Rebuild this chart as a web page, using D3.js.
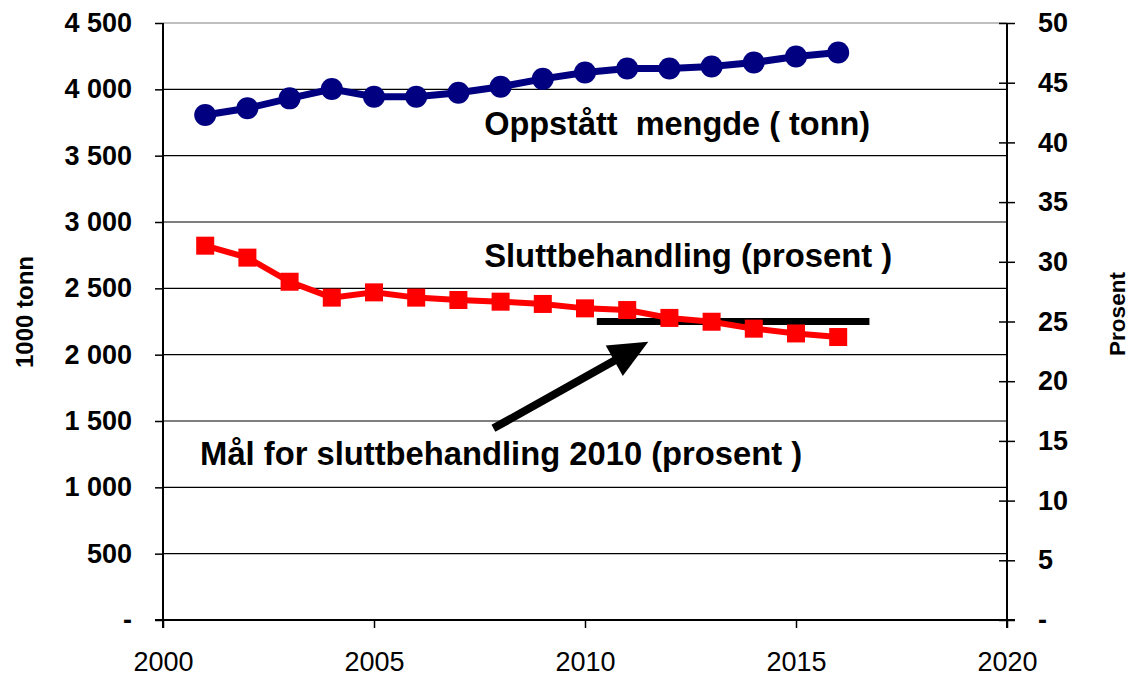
<!DOCTYPE html>
<meta charset="utf-8">
<title>Oppstått mengde og sluttbehandling</title>
<style>
    body { margin: 0; background: #fff; }
    text { font-family: "Liberation Sans", Arial, sans-serif; }
    .bold text, text.bold { font-weight: bold; }
</style>
<body>
<div id="chart"></div>
<script src="https://d3js.org/d3.v7.min.js"></script>
<script>
    // data
    var years = [2001, 2002, 2003, 2004, 2005, 2006, 2007, 2008, 2009, 2010, 2011, 2012, 2013, 2014, 2015, 2016];
    var mengde = [3807, 3857, 3932, 4002, 3944, 3944, 3974, 4019, 4079, 4127, 4157, 4157, 4172, 4202, 4247, 4277];
    var sluttbehandling = [31.35, 30.35, 28.33, 27.0, 27.44, 27.0, 26.8, 26.66, 26.47, 26.1, 25.96, 25.3, 24.98, 24.4, 24.0, 23.7];
    var malYears = [2010.28, 2016.74];
    var malValue = 25;
    var leftTicks = [0, 500, 1000, 1500, 2000, 2500, 3000, 3500, 4000, 4500];
    var rightTicks = [0, 5, 10, 15, 20, 25, 30, 35, 40, 45, 50];
    var xTicks = [2000, 2005, 2010, 2015, 2020];

    var width = 1134, height = 678;
    var x = d3.scaleLinear().domain([2000, 2020]).range([163, 1007]);
    var yL = d3.scaleLinear().domain([0, 4500]).range([620, 23]);
    var yR = d3.scaleLinear().domain([0, 50]).range([620, 23]);

    var nb = d3.formatLocale({ decimal: ",", thousands: " ", grouping: [3], currency: ["", ""] });
    var fmtL = function (d) { return d === 0 ? "-" : nb.format(",")(d); };
    var fmtR = function (d) { return d === 0 ? "-" : d; };

    var svg = d3.select("#chart").append("svg")
        .attr("width", width).attr("height", height);

    // gridlines (left axis)
    svg.append("g").selectAll("line")
        .data(leftTicks.filter(function (d) { return d > 0; }))
        .enter().append("line")
        .attr("x1", x(2000)).attr("x2", x(2020))
        .attr("y1", function (d) { return yL(d); })
        .attr("y2", function (d) { return yL(d); })
        .attr("stroke", function (d) { return d === 4500 ? "#808080" : "#000"; })
        .attr("stroke-width", 1.2);

    // left axis
    var gL = svg.append("g").attr("class", "bold")
        .attr("transform", "translate(" + x(2000) + ",0)")
        .call(d3.axisLeft(yL).tickValues(leftTicks).tickFormat(fmtL).tickSize(8).tickPadding(23));
    gL.select(".domain").remove();
    gL.selectAll("text").attr("font-size", "27px").attr("fill", "#000");
    gL.selectAll("line").attr("stroke", "#000").attr("stroke-width", 1.5);

    // right axis
    var gR = svg.append("g").attr("class", "bold")
        .attr("transform", "translate(" + x(2020) + ",0)")
        .call(d3.axisRight(yR).tickValues(rightTicks).tickFormat(fmtR).tickSize(8).tickPadding(23));
    gR.select(".domain").remove();
    gR.selectAll("text").attr("font-size", "27px").attr("fill", "#000");
    gR.selectAll("line").attr("x1", -8).attr("stroke", "#000").attr("stroke-width", 1.5);

    // x axis
    var gX = svg.append("g")
        .attr("transform", "translate(0," + yL(0) + ")")
        .call(d3.axisBottom(x).tickValues(xTicks).tickFormat(d3.format("d")).tickSize(8).tickPadding(24));
    gX.select(".domain").remove();
    gX.selectAll("text").attr("font-size", "27px").attr("fill", "#000");
    gX.selectAll("line").attr("stroke", "#000").attr("stroke-width", 1.5);

    // axis lines
    svg.append("line").attr("x1", x(2000) - 8).attr("x2", x(2020) + 8)
        .attr("y1", yL(0)).attr("y2", yL(0)).attr("stroke", "#000").attr("stroke-width", 2);
    svg.append("line").attr("x1", x(2000)).attr("x2", x(2000))
        .attr("y1", yL(4500)).attr("y2", yL(0) + 8).attr("stroke", "#000").attr("stroke-width", 2);
    svg.append("line").attr("x1", x(2020)).attr("x2", x(2020))
        .attr("y1", yR(50)).attr("y2", yR(0) + 8).attr("stroke", "#000").attr("stroke-width", 2);

    // axis titles
    svg.append("text").attr("class", "bold")
        .attr("transform", "translate(33," + 312 + ") rotate(-90)")
        .attr("text-anchor", "middle").attr("font-size", "24px").text("1000 tonn");
    svg.append("text").attr("class", "bold")
        .attr("transform", "translate(1125," + 314 + ") rotate(-90)")
        .attr("text-anchor", "middle").attr("font-size", "22.5px").text("Prosent");

    // target line (2010 goal)
    svg.append("line")
        .attr("x1", x(malYears[0])).attr("x2", x(malYears[1]))
        .attr("y1", yR(malValue)).attr("y2", yR(malValue))
        .attr("stroke", "#000").attr("stroke-width", 7);

    // red series: sluttbehandling (right axis)
    var red = years.map(function (d, i) { return [d, sluttbehandling[i]]; });
    svg.append("path").datum(red)
        .attr("fill", "none").attr("stroke", "#ff0000").attr("stroke-width", 6)
        .attr("d", d3.line().x(function (d) { return x(d[0]); }).y(function (d) { return yR(d[1]); }));
    svg.append("g").selectAll("rect").data(red).enter().append("rect")
        .attr("x", function (d) { return x(d[0]) - 9; })
        .attr("y", function (d) { return yR(d[1]) - 9; })
        .attr("width", 18).attr("height", 18).attr("fill", "#ff0000");

    // blue series: oppstått mengde (left axis)
    var blue = years.map(function (d, i) { return [d, mengde[i]]; });
    svg.append("path").datum(blue)
        .attr("fill", "none").attr("stroke", "#000080").attr("stroke-width", 7)
        .attr("d", d3.line().x(function (d) { return x(d[0]); }).y(function (d) { return yL(d[1]); }));
    svg.append("g").selectAll("circle").data(blue).enter().append("circle")
        .attr("cx", function (d) { return x(d[0]); })
        .attr("cy", function (d) { return yL(d[1]); })
        .attr("r", 11).attr("fill", "#000080");

    // arrow pointing to the goal line
    var a0 = [x(2007.83), yR(16.05)], a1 = [x(2011.5), yR(23.3)];
    var ang = Math.atan2(a1[1] - a0[1], a1[0] - a0[0]);
    var headLen = 39, headHalf = 17.5;
    var base = [a1[0] - headLen * Math.cos(ang), a1[1] - headLen * Math.sin(ang)];
    svg.append("line")
        .attr("x1", a0[0]).attr("y1", a0[1]).attr("x2", base[0] + 2 * Math.cos(ang)).attr("y2", base[1] + 2 * Math.sin(ang))
        .attr("stroke", "#000").attr("stroke-width", 8);
    svg.append("polygon")
        .attr("points", [
            a1,
            [base[0] + headHalf * Math.sin(ang), base[1] - headHalf * Math.cos(ang)],
            [base[0] - headHalf * Math.sin(ang), base[1] + headHalf * Math.cos(ang)]
        ].map(function (p) { return p.join(","); }).join(" "))
        .attr("fill", "#000");

    // labels
    var notes = [
        { text: "Oppstått  mengde ( tonn)", year: 2007.61, value: 3656, len: 386 },
        { text: "Sluttbehandling (prosent )", year: 2007.61, value: 2661, len: 408 },
        { text: "Mål for sluttbehandling 2010 (prosent )", year: 2000.88, value: 1168, len: 602 }
    ];
    svg.append("g").selectAll("text").data(notes).enter().append("text")
        .attr("class", "bold")
        .attr("x", function (d) { return x(d.year); })
        .attr("y", function (d) { return yL(d.value); })
        .attr("font-size", "32.5px")
        .attr("textLength", function (d) { return d.len; })
        .attr("lengthAdjust", "spacingAndGlyphs")
        .style("white-space", "pre")
        .text(function (d) { return d.text; });
</script>
</body>
